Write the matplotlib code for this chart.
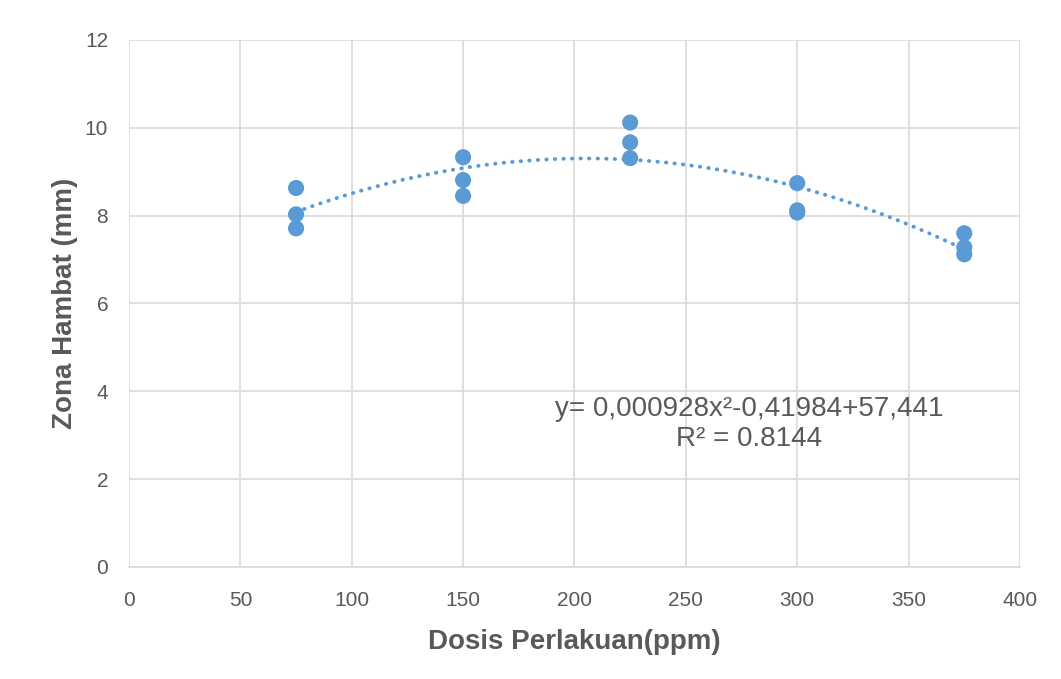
import numpy as np
import matplotlib.pyplot as plt

BLUE = "#5B9BD5"
TEXT = "#595959"
GRID = "#D9D9D9"

plt.rcParams.update({
    "font.family": ["Liberation Sans", "DejaVu Sans"],
    "text.color": TEXT,
    "axes.labelcolor": TEXT,
    "xtick.color": TEXT,
    "ytick.color": TEXT,
})

# dose (ppm) and inhibition zone (mm), three replicates each
dosis = [75, 75, 75, 150, 150, 150, 225, 225, 225, 300, 300, 300, 375, 375, 375]
zona = [8.63, 8.03, 7.71, 9.33, 8.81, 8.45, 10.12, 9.67, 9.31,
        8.74, 8.12, 8.07, 7.60, 7.28, 7.12]

x_ticks = [0, 50, 100, 150, 200, 250, 300, 350, 400]
y_ticks = [0, 2, 4, 6, 8, 10, 12]

fig = plt.figure(figsize=(10.61, 6.79), dpi=100)
ax = fig.add_axes([0.1216, 0.165, 0.8397, 0.7761])

# 2nd order trendline like Excel
coef = np.polyfit(dosis, zona, 2)
xs = np.linspace(min(dosis), max(dosis), 200)
ax.plot(xs, np.polyval(coef, xs), color=BLUE, linewidth=2.8,
        linestyle=(0, (0.1, 2.1)), dash_capstyle="round", zorder=2)

ax.scatter(dosis, zona, s=135, color=BLUE, edgecolors="none", zorder=3)

ax.set_xlim(0, 400)
ax.set_ylim(0, 12)
ax.set_xticks(x_ticks)
ax.set_yticks(y_ticks)
ax.tick_params(axis="x", length=0, labelsize=15, pad=17)
ax.tick_params(axis="y", length=0, labelsize=15, pad=15)
ax.grid(True, color=GRID, linewidth=1.2)
ax.set_axisbelow(True)
for side in ["top", "right", "left"]:
    ax.spines[side].set_visible(False)
ax.spines["bottom"].set_color(GRID)
ax.spines["bottom"].set_linewidth(1.2)

ax.set_xlabel("Dosis Perlakuan(ppm)", fontsize=20, fontweight="bold", labelpad=14)
ax.set_ylabel("Zona Hambat (mm)", fontsize=20, fontweight="bold", labelpad=5)

fig.text(749 / 1061, 1 - 424 / 679, "y= 0,000928x²-0,41984+57,441\nR² = 0.8144",
         ha="center", va="center", fontsize=20, linespacing=1.2)

fig.savefig("out.png", dpi=100, facecolor="white")
